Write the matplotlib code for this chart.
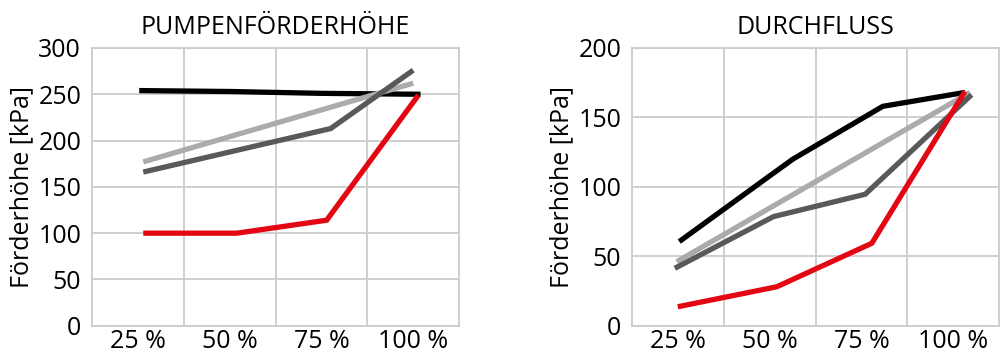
import matplotlib
matplotlib.use("Agg")
from matplotlib import pyplot as plt

plt.rcParams["font.family"]=["Open Sans","DejaVu Sans"]

categories=["25 %","50 %","75 %","100 %"]
cat_pos=[25,50,75,100]

# PUMPENFÖRDERHÖHE
head_x={
    "black":[25.3,50,75,102],
    "dark":[26.4,77.5,100],
    "light":[26.4,100],
    "red":[26.4,51.9,76.4,101.4],
}
head_y={
    "black":[254,253,251,250],
    "dark":[166,213,276],
    "light":[177,262],
    "red":[100,100,114,249],
}

# DURCHFLUSS
flow_x={
    "black":[25.3,50,56.3,80.8,103.2],
    "dark":[24.1,51.0,76.0,105.0],
    "light":[24.6,104.6],
    "red":[24.9,51.9,77.8,103.2],
}
flow_y={
    "black":[60.6,108,120,158,168],
    "dark":[41.4,78.6,94.7,166.3],
    "light":[46.1,168],
    "red":[13.7,28.1,59.4,168.7],
}

colors={"black":"#000000","dark":"#595959","light":"#ababab","red":"#e30613"}
order=["black","light","dark","red"]

fig=plt.figure(figsize=(10.03,3.58),dpi=100)
ax1=fig.add_axes([0.092,0.090,0.3657,0.776])
ax2=fig.add_axes([0.6304,0.090,0.3657,0.776])

def draw(ax,xs,ys,title,ymax):
    for k in order:
        ax.plot(xs[k],ys[k],color=colors[k],lw=3.8,solid_capstyle="butt",solid_joinstyle="miter",zorder=3)
    ax.set_xlim(12.5,112.5)
    ax.set_ylim(0,ymax)
    ax.set_xticks(cat_pos)
    ax.set_xticklabels(categories)
    ax.set_xticks([37.5,62.5,87.5],minor=True)
    ax.set_yticks(range(0,ymax+1,50))
    ax.grid(True,which="minor",axis="x",color="#cccccc",lw=1.3)
    ax.grid(True,which="major",axis="y",color="#cccccc",lw=1.3)
    ax.tick_params(which="both",length=0,labelsize=18)
    ax.tick_params(axis="y",pad=8)
    ax.tick_params(axis="x",pad=2)
    for s in ax.spines.values():
        s.set_color("#cccccc")
        s.set_linewidth(1.3)
    ax.set_title(title,fontsize=18,pad=10)
    ax.set_ylabel("Förderhöhe [kPa]",fontsize=18,labelpad=3)

draw(ax1,head_x,head_y,"PUMPENFÖRDERHÖHE",300)
draw(ax2,flow_x,flow_y,"DURCHFLUSS",200)

fig.savefig("out.png",dpi=100)
